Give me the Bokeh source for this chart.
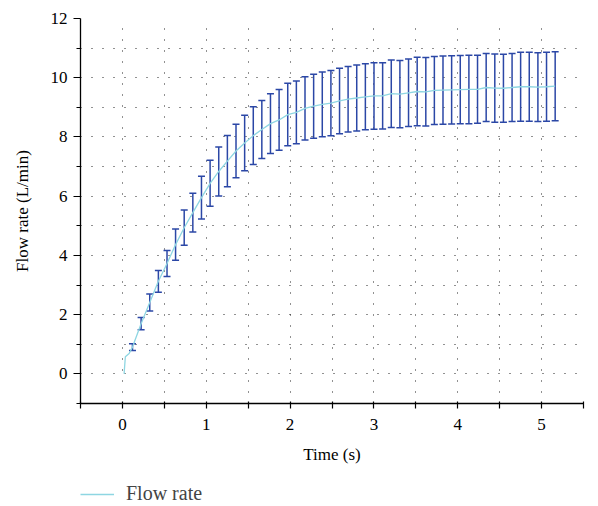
from bokeh.plotting import figure
from bokeh.layouts import column
from bokeh.models import (ColumnDataSource, Whisker, TeeHead, FixedTicker,
                          Legend, LegendItem)
from bokeh.embed import file_html
from bokeh.resources import INLINE

# sample times (s) of the error bars
times = [0.12, 0.223, 0.326, 0.429, 0.532, 0.634, 0.737, 0.84, 0.943, 1.046,
         1.149, 1.252, 1.355, 1.458, 1.561, 1.663, 1.766, 1.869, 1.972, 2.075,
         2.178, 2.281, 2.384, 2.487, 2.59, 2.692, 2.795, 2.898, 3.001, 3.104,
         3.207, 3.31, 3.413, 3.516, 3.619, 3.721, 3.824, 3.927, 4.03, 4.133,
         4.236, 4.339, 4.442, 4.545, 4.648, 4.75, 4.853, 4.956, 5.059, 5.162]
upper = [1.02, 1.90, 2.70, 3.49, 4.17, 4.89, 5.53, 6.10, 6.67, 7.21,
         7.66, 8.05, 8.43, 8.73, 9.02, 9.23, 9.46, 9.60, 9.81, 9.89,
         10.03, 10.12, 10.19, 10.24, 10.32, 10.38, 10.43, 10.47, 10.51, 10.51,
         10.60, 10.58, 10.63, 10.69, 10.68, 10.72, 10.73, 10.74, 10.75, 10.76,
         10.76, 10.82, 10.80, 10.79, 10.82, 10.86, 10.86, 10.84, 10.86, 10.88]
lower = [0.79, 1.49, 2.12, 2.76, 3.29, 3.84, 4.34, 4.79, 5.23, 5.66,
         6.01, 6.32, 6.62, 6.86, 7.07, 7.27, 7.44, 7.55, 7.70, 7.77,
         7.90, 7.96, 8.01, 8.04, 8.11, 8.17, 8.20, 8.24, 8.26, 8.27,
         8.32, 8.31, 8.35, 8.38, 8.37, 8.42, 8.43, 8.44, 8.45, 8.45,
         8.46, 8.52, 8.50, 8.50, 8.52, 8.53, 8.53, 8.52, 8.53, 8.55]
# start of the curve before the first sample
start_t = [0.02, 0.035, 0.08]
start_q = [0.0, 0.58, 0.69]

x_major = [0, 1, 2, 3, 4, 5]
x_minor = [-0.5, 0.5, 1.5, 2.5, 3.5, 4.5, 5.5]
y_major = [0, 2, 4, 6, 8, 10, 12]
y_minor = [-1, 1, 3, 5, 7, 9, 11]
series_name = "Flow rate"

mean = [(u + l) / 2 for u, l in zip(upper, lower)]

FONT = "Liberation Serif"
LINE_COLOR = "#8ed6e2"
BAR_COLOR = "#2b47a6"

p = figure(width=588, height=475, output_backend="svg", toolbar_location=None,
           x_range=(-0.5, 5.5), y_range=(-1, 12),
           frame_width=503, frame_height=385,
           min_border_left=80, min_border_top=18, min_border_right=5,
           min_border_bottom=72)
p.outline_line_color = None
p.background_fill_color = "white"

# grid
for g, ticks in ((p.xgrid, sorted(x_major + x_minor)), (p.ygrid, sorted(y_major + y_minor))):
    g.ticker = FixedTicker(ticks=ticks)
    g.grid_line_color = "#222222"
    g.grid_line_dash = "1 10"
    g.grid_line_width = 1

# axes
p.xaxis.ticker = FixedTicker(ticks=x_major, minor_ticks=x_minor)
p.yaxis.ticker = FixedTicker(ticks=y_major, minor_ticks=y_minor)
for ax in (p.xaxis[0], p.yaxis[0]):
    ax.axis_line_color = "black"
    ax.axis_line_width = 1.3
    ax.major_tick_line_color = "black"
    ax.minor_tick_line_color = "black"
    ax.major_tick_line_width = 1.2
    ax.minor_tick_line_width = 1.2
    ax.major_label_text_font = FONT
    ax.major_label_text_font_size = "17px"
    ax.major_label_text_color = "black"
    ax.axis_label_text_font = FONT
    ax.axis_label_text_font_size = "17px"
    ax.axis_label_text_font_style = "normal"
    ax.axis_label_text_color = "black"
p.xaxis.major_tick_out = 5
p.xaxis.major_tick_in = 2
p.xaxis.minor_tick_out = 5
p.xaxis.minor_tick_in = 2
p.yaxis.major_tick_out = 7
p.yaxis.major_tick_in = 0
p.yaxis.minor_tick_out = 4
p.yaxis.minor_tick_in = 0
p.xaxis.axis_label = "Time (s)"
p.yaxis.axis_label = "Flow rate (L/min)"
p.xaxis.major_label_standoff = 10
p.xaxis.axis_label_standoff = 12
p.yaxis.major_label_standoff = 6
p.yaxis.axis_label_standoff = 16

# error bars
src = ColumnDataSource(dict(t=times, up=upper, lo=lower))
wh = Whisker(base="t", upper="up", lower="lo", source=src, dimension="height",
             line_color=BAR_COLOR, line_width=1.5,
             upper_head=TeeHead(size=7, line_color=BAR_COLOR, line_width=1.5),
             lower_head=TeeHead(size=7, line_color=BAR_COLOR, line_width=1.5))
p.add_layout(wh)

# mean curve
p.line(start_t + times, start_q + mean, line_color=LINE_COLOR, line_width=1.3)

# legend strip underneath, with the same left/right borders as the chart
lg = figure(width=588, height=30, output_backend="svg", toolbar_location=None,
            x_range=(0, 1), y_range=(0, 1),
            x_axis_location=None, y_axis_location=None,
            frame_width=503, frame_height=30,
            min_border_left=80, min_border_right=5,
            min_border_top=0, min_border_bottom=0)
lg.grid.visible = False
lg.outline_line_color = None
proxy = lg.line(x=[2, 3], y=[2, 3], line_color=LINE_COLOR, line_width=1.5)
legend = Legend(items=[LegendItem(label=series_name, renderers=[proxy])],
                location=(0, 0), orientation="horizontal",
                label_text_font=FONT, label_text_font_size="20px",
                glyph_width=34, glyph_height=18, label_height=18,
                padding=0, margin=0, spacing=0, label_standoff=12,
                border_line_color=None, background_fill_alpha=0)
lg.add_layout(legend, "center")

layout = column(p, lg, spacing=0)
open("out.html", "w").write(file_html(layout, INLINE))
